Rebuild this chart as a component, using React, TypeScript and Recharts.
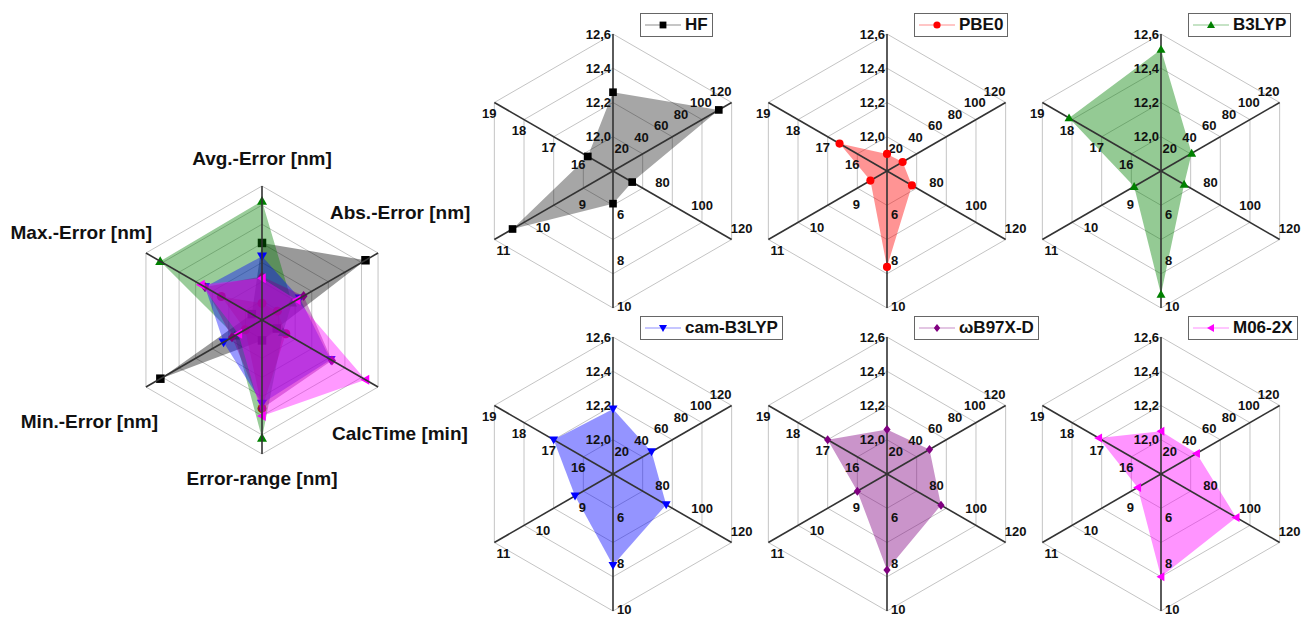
import React from "react"
import {
	RadarChart,
	Radar,
	PolarGrid,
	PolarAngleAxis,
	PolarRadiusAxis,
	Legend,
} from "recharts"

const categories = [
	"Avg.-Error [nm]",
	"Abs.-Error [nm]",
	"CalcTime [min]",
	"Error-range [nm]",
	"Min.-Error [nm]",
	"Max.-Error [nm]",
]

// values in category order: avg, abs, calc time, range, min, max
const hfValues = [12.26, 107, 69.7, 5.43, 10.54, 15.85]
const pbe0Values = [11.9, 15.8, 72.6, 8.2, 8.42, 16.6]
const b3lypValues = [12.51, 31, 71.7, 9.4, 8.68, 18.1]
const camValues = [12.18, 39, 86.9, 8.0, 8.96, 17.0]
const wb97Values = [12.06, 43, 87.3, 8.2, 8.75, 17.0]
const m06Values = [12.05, 36, 98, 8.5, 8.59, 17.1]

// tick labels of the small plots (first one sits in the centre, unlabelled)
const avgTicks = [11.8, 12.0, 12.2, 12.4, 12.6]
const absTicks = [0, 20, 40, 60, 80, 100, 120]
const calcTicks = [60, 80, 100, 120]
const rangeTicks = [4, 6, 8, 10]
const minTicks = [8, 9, 10, 11]
const maxTicks = [15, 16, 17, 18, 19]
const axisTicks = [avgTicks, absTicks, calcTicks, rangeTicks, minTicks, maxTicks]
// decimal axis is run in tenths so the nice-tick step stays an integer
const axisFactor = [10, 1, 1, 1, 1, 1]

// the overview plot has its own, unlabelled axis ranges
const overviewMin = [11.8, 0, 65, 4.6, 8, 15.6]
const overviewMax = [12.6, 120, 102, 10.05, 10.9, 18.45]

const methods = [
	{ name: "HF", values: hfValues, color: "#000000", shape: "square" },
	{ name: "PBE0", values: pbe0Values, color: "#ff0000", shape: "circle" },
	{ name: "B3LYP", values: b3lypValues, color: "#008000", shape: "up" },
	{ name: "cam-B3LYP", values: camValues, color: "#0000ff", shape: "down" },
	{ name: "ωB97X-D", values: wb97Values, color: "#800080", shape: "diamond" },
	{ name: "M06-2X", values: m06Values, color: "#ff00ff", shape: "left" },
]

const FONT = '"Liberation Sans", Arial, sans-serif'
const spokeAngles = [90, 30, -30, -90, -150, 150]
const spokeLabels = [
	{ anchor: "end", dx: -2, dy: 0 },
	{ anchor: "middle", dx: -11, dy: -11 },
	{ anchor: "middle", dx: 10, dy: -11 },
	{ anchor: "start", dx: 4, dy: -2 },
	{ anchor: "middle", dx: 9, dy: 11 },
	{ anchor: "middle", dx: -5, dy: 11 },
]
const overviewLabels = [
	{ anchor: "middle", dx: 0, dy: -20 },
	{ anchor: "start", dx: -55, dy: -37 },
	{ anchor: "start", dx: -53, dy: 42 },
	{ anchor: "middle", dx: 0, dy: 16 },
	{ anchor: "end", dx: 19, dy: 30 },
	{ anchor: "end", dx: 13, dy: -17 },
]

function Marker({ x, y, shape, color, size }: any) {
	const s = size / 2
	switch (shape) {
		case "square":
			return <rect x={x - s * 0.85} y={y - s * 0.85} width={size * 0.85} height={size * 0.85} fill={color} />
		case "circle":
			return <circle cx={x} cy={y} r={s * 0.9} fill={color} />
		case "up":
			return <polygon points={`${x},${y - s} ${x + s},${y + s * 0.75} ${x - s},${y + s * 0.75}`} fill={color} />
		case "down":
			return <polygon points={`${x},${y + s} ${x + s},${y - s * 0.75} ${x - s},${y - s * 0.75}`} fill={color} />
		case "left":
			return <polygon points={`${x - s},${y} ${x + s * 0.75},${y - s} ${x + s * 0.75},${y + s}`} fill={color} />
		default:
			return <polygon points={`${x},${y - s} ${x + s * 0.8},${y} ${x},${y + s} ${x - s * 0.8},${y}`} fill={color} />
	}
}

function LegendBox({ m }: any) {
	return (
		<div
			style={{
				display: "inline-flex",
				alignItems: "center",
				height: 22,
				padding: "0 4px",
				border: "1px solid #666",
				background: "#fff",
				fontFamily: FONT,
				fontWeight: "bold",
				fontSize: 17,
				color: "#111",
				whiteSpace: "nowrap",
			}}
		>
			<svg width={36} height={12} style={{ marginRight: 4 }}>
				<line x1={0} y1={6} x2={36} y2={6} stroke={m.color} strokeOpacity={0.3} strokeWidth={1.5} />
				<Marker x={18} y={6} shape={m.shape} color={m.color} size={8} />
			</svg>
			{m.name}
		</div>
	)
}

function fmtTick(axis: number, v: number) {
	const real = v / axisFactor[axis]
	if (axis === 0) return real.toFixed(1).replace(".", ",")
	return String(Math.round(real))
}

function spokeTick(axis: number) {
	const t = axisTicks[axis]
	const cfg = spokeLabels[axis]
	return (p: any) => {
		const v = p.payload.value
		if (Math.abs(v - t[0] * axisFactor[axis]) < 1e-6) return <g />
		return (
			<text
				x={p.x + cfg.dx}
				y={p.y + cfg.dy}
				textAnchor={cfg.anchor}
				dominantBaseline="central"
				fontFamily={FONT}
				fontWeight="bold"
				fontSize={13}
				fill="#111"
			>
				{fmtTick(axis, v)}
			</text>
		)
	}
}

function overviewTick(p: any) {
	const cfg = overviewLabels[p.index]
	return (
		<text
			x={p.x + cfg.dx}
			y={p.y + cfg.dy}
			textAnchor={cfg.anchor}
			dominantBaseline="central"
			fontFamily={FONT}
			fontWeight="bold"
			fontSize={19}
			fill="#111"
		>
			{p.payload.value}
		</text>
	)
}

// polygon and its markers drawn together, so later series cover earlier markers
function polygonWithMarkers(m: any, opacity: number, size: number) {
	return (props: any) => {
		const pts = props.points || []
		return (
			<g>
				<polygon
					points={pts.map((p: any) => `${p.x},${p.y}`).join(" ")}
					fill={m.color}
					fillOpacity={opacity}
					stroke="none"
				/>
				{pts.map((p: any, i: number) => (
					<Marker key={i} x={p.x} y={p.y} shape={m.shape} color={m.color} size={size} />
				))}
			</g>
		)
	}
}

function MethodRadar({ m, cx, cy }: any) {
	const data = categories.map((c, i) => {
		const t = axisTicks[i]
		const lo = t[0]
		const hi = t[t.length - 1]
		return { cat: c, v: ((m.values[i] - lo) / (hi - lo)) * 4 }
	})
	return (
		<div style={{ position: "absolute", left: cx - 150, top: cy - 160 }}>
			<RadarChart
				width={300}
				height={320}
				cx={150}
				cy={160}
				outerRadius={137}
				data={data}
				margin={{ top: 0, right: 0, bottom: 0, left: 0 }}
			>
				<PolarGrid gridType="polygon" radialLines={false} stroke="#c4c4c4" />
				<PolarAngleAxis dataKey="cat" tick={false} tickLine={false} axisLine={false} />
				<PolarRadiusAxis radiusAxisId={0} domain={[0, 4]} tickCount={5} allowDataOverflow tick={false} tickLine={false} axisLine={false} />
				{axisTicks.map((t, i) => (
					<PolarRadiusAxis
						key={i}
						radiusAxisId={`ax${i}`}
						angle={spokeAngles[i]}
						type="number"
						domain={[t[0] * axisFactor[i], t[t.length - 1] * axisFactor[i]]}
						tickCount={t.length}
						allowDataOverflow
						tick={spokeTick(i)}
						tickLine={false}
						axisLine={{ stroke: "#333", strokeWidth: 1.6 }}
					/>
				))}
				<Radar
					dataKey="v"
					fill={m.color}
					fillOpacity={m.name === "HF" ? 0.35 : 0.42}
					stroke="none"
					isAnimationActive={false}
					dot={(p: any) => (
						<Marker key={`d${p.index}`} x={p.cx} y={p.cy} shape={m.shape} color={m.color} size={9} />
					)}
				/>
				<Legend
					verticalAlign="top"
					align="left"
					content={() => <LegendBox m={m} />}
					wrapperStyle={{ left: 177, top: 2, width: "auto", height: "auto" }}
				/>
			</RadarChart>
		</div>
	)
}

function Overview() {
	const data = categories.map((c, i) => {
		const row: any = { cat: c }
		methods.forEach((m) => {
			row[m.name] = ((m.values[i] - overviewMin[i]) / (overviewMax[i] - overviewMin[i])) * 7
		})
		return row
	})
	return (
		<div style={{ position: "absolute", left: 0, top: 140 }}>
			<RadarChart
				width={520}
				height={360}
				cx={262}
				cy={180}
				outerRadius={134}
				data={data}
				margin={{ top: 0, right: 0, bottom: 0, left: 0 }}
			>
				<PolarGrid gridType="polygon" radialLines={false} stroke="#c4c4c4" />
				<PolarAngleAxis dataKey="cat" tick={overviewTick} tickLine={false} axisLine={false} />
				<PolarRadiusAxis radiusAxisId={0} domain={[0, 7]} tickCount={8} allowDataOverflow tick={false} tickLine={false} axisLine={false} />
				{spokeAngles.map((a, i) => (
					<PolarRadiusAxis
						key={i}
						radiusAxisId={`sp${i}`}
						angle={a}
						type="number"
						domain={[0, 7]}
						tickCount={8}
						allowDataOverflow
						tick={false}
						tickLine={false}
						axisLine={{ stroke: "#333", strokeWidth: 1.6 }}
					/>
				))}
				{methods.map((m) => (
					<Radar
						key={m.name}
						dataKey={m.name}
						fill={m.color}
						fillOpacity={0.4}
						stroke="none"
						isAnimationActive={false}
						dot={false}
						shape={polygonWithMarkers(m, 0.4, 10)}
					/>
				))}
			</RadarChart>
		</div>
	)
}

const centersX = [613, 887, 1161]
const centersY = [171, 474]

export default function App() {
	return (
		<div
			style={{
				position: "absolute",
				left: 0,
				top: 0,
				width: 1304,
				height: 618,
				overflow: "hidden",
				background: "#fff",
			}}
		>
			<Overview />
			{methods.map((m, i) => (
				<MethodRadar key={m.name} m={m} cx={centersX[i % 3]} cy={centersY[Math.floor(i / 3)]} />
			))}
		</div>
	)
}
